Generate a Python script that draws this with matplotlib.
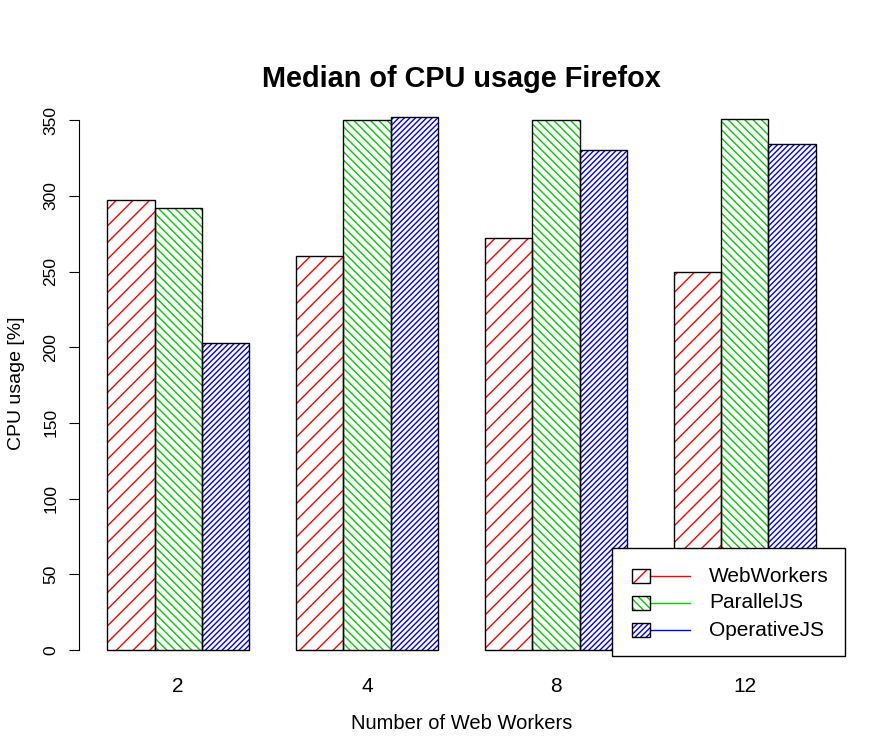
import matplotlib
matplotlib.use('Agg')
import matplotlib.pyplot as plt
from matplotlib.patches import Rectangle
from matplotlib.lines import Line2D
import numpy as np

plt.rcParams['font.family'] = ['Liberation Sans', 'DejaVu Sans']
plt.rcParams['hatch.linewidth'] = 1.0

workers = ['2', '4', '8', '12']
libs = ['WebWorkers', 'ParallelJS', 'OperativeJS']
webworkers = [297, 260, 272, 250]
paralleljs = [292, 350, 350, 351]
operativejs = [203, 352, 330, 334]
colors = ['red', '#00cc00', 'blue']
hatches = ['//', '\\' * 4, '/' * 6]

W, H = 886, 754
fig = plt.figure(figsize=(W / 100, H / 100), dpi=100)
ax = fig.add_axes([79 / W, 1 - 671 / H, (844 - 79) / W, (671 - 96) / H])

series = [webworkers, paralleljs, operativejs]
for j, vals in enumerate(series):
    lefts = 1 + np.arange(len(workers)) * 4 + j
    ax.bar(lefts, vals, width=1, align='edge', color='none',
           edgecolor=colors[j], hatch=hatches[j], linewidth=0)
    ax.bar(lefts, vals, width=1, align='edge', fill=False,
           edgecolor='black', linewidth=1)

ax.set_xlim(0.4, 16.6)
ax.set_ylim(-14, 366)
for s in ['top', 'right', 'bottom']:
    ax.spines[s].set_visible(False)
ax.spines['left'].set_bounds(0, 350)
ax.set_yticks(np.arange(0, 351, 50))
ax.tick_params(axis='y', length=7, labelsize=12.5, labelrotation=90, pad=8)
for lab in ax.get_yticklabels():
    lab.set_va('center')
ax.set_xticks(2.5 + np.arange(len(workers)) * 4)
ax.set_xticklabels(workers, fontsize=15)
ax.tick_params(axis='x', length=0, pad=4.5)

ax.set_xlabel('Number of Web Workers', fontsize=14.5, labelpad=13)
ax.set_ylabel('CPU usage [%]', fontsize=14, labelpad=13)
fig.text(461 / W, 1 - 79 / H, 'Median of CPU usage Firefox', fontsize=20.8,
         fontweight='bold', ha='center', va='center')

# legend box drawn by hand (hatched box plus line, like R)
def fx(px):
    return px / W

def fy(py):
    return 1 - py / H

fig.patches.append(Rectangle((fx(612), fy(656)), fx(845) - fx(612), fy(548) - fy(656),
                             transform=fig.transFigure, facecolor='white',
                             edgecolor='black', linewidth=1, zorder=5))
rows = [576, 603, 630]
for j, lib in enumerate(libs):
    y = rows[j]
    fig.patches.append(Rectangle((fx(632), fy(y + 7)), fx(650) - fx(632), fy(y - 7) - fy(y + 7),
                                 transform=fig.transFigure, facecolor='white',
                                 edgecolor=colors[j], hatch=hatches[j], linewidth=0, zorder=6))
    fig.patches.append(Rectangle((fx(632), fy(y + 7)), fx(650) - fx(632), fy(y - 7) - fy(y + 7),
                                 transform=fig.transFigure, fill=False,
                                 edgecolor='black', linewidth=1, zorder=7))
    fig.lines.append(Line2D([fx(650), fx(690)], [fy(y), fy(y)], transform=fig.transFigure,
                            color=colors[j], linewidth=1, zorder=7))
    fig.text(fx(709), fy(y), lib, fontsize=15, ha='left', va='center', zorder=8)

fig.savefig('out.png', dpi=100)
